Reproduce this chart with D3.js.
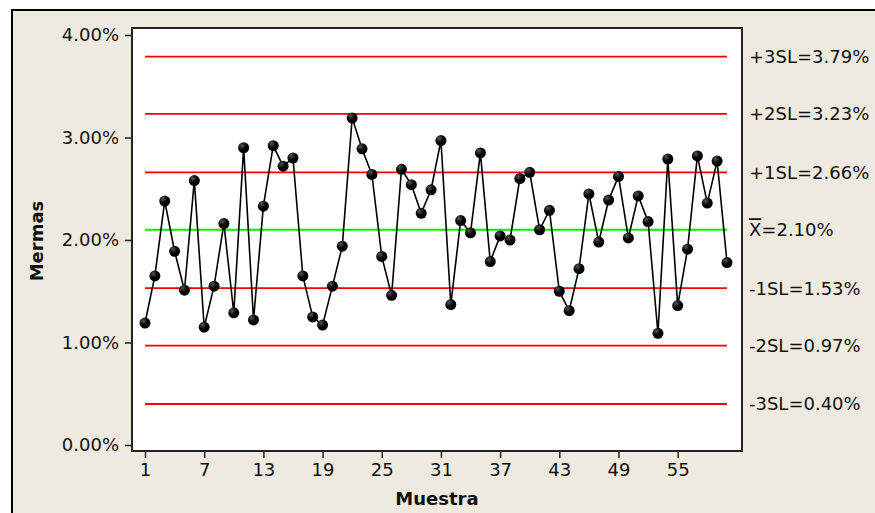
<!DOCTYPE html>
<html>
<head>
<meta charset="utf-8">
<script src="https://cdn.jsdelivr.net/npm/d3@7"></script>
<style>
  html, body { margin: 0; padding: 0; background: #ffffff; }
  svg { display: block; }
  text { font-family: "DejaVu Sans", Verdana, sans-serif; fill: #111; }
</style>
</head>
<body>
<svg id="chart" width="875" height="513"></svg>
<script>
// Mermas (%) per sample
const samples = d3.range(1, 61);
const mermas = [
  1.19, 1.65, 2.38, 1.89, 1.51, 2.58, 1.15, 1.55, 2.16, 1.29,
  2.90, 1.22, 2.33, 2.92, 2.72, 2.80, 1.65, 1.25, 1.17, 1.55,
  1.94, 3.19, 2.89, 2.64, 1.84, 1.46, 2.69, 2.54, 2.26, 2.49,
  2.97, 1.37, 2.19, 2.07, 2.85, 1.79, 2.04, 2.00, 2.60, 2.66,
  2.10, 2.29, 1.50, 1.31, 1.72, 2.45, 1.98, 2.39, 2.62, 2.02,
  2.43, 2.18, 1.09, 2.79, 1.36, 1.91, 2.82, 2.36, 2.77, 1.78
];

// Centre line and sigma limits
const limitNames  = ["+3SL", "+2SL", "+1SL", "X", "-1SL", "-2SL", "-3SL"];
const limitValues = [3.79, 3.23, 2.66, 2.10, 1.53, 0.97, 0.40];

const yTicks = [0, 1, 2, 3, 4];
const xTicks = [1, 7, 13, 19, 25, 31, 37, 43, 49, 55];

const svg = d3.select("#chart");

// outer panel
svg.append("rect")
  .attr("x", 12).attr("y", 10).attr("width", 880).attr("height", 520)
  .attr("fill", "#eeeae0").attr("stroke", "#000").attr("stroke-width", 2);

const frame = { left: 132, right: 742, top: 28, bottom: 451 };

const x = d3.scaleLinear().domain([1, 60]).range([145, 727]);
const y = d3.scaleLinear().domain([0, 4]).range([445, 35]);

// plot area
svg.append("rect")
  .attr("x", frame.left).attr("y", frame.top)
  .attr("width", frame.right - frame.left).attr("height", frame.bottom - frame.top)
  .attr("fill", "#fff").attr("stroke", "#222").attr("stroke-width", 2);

// y axis
const yAxis = d3.axisLeft(y).tickValues(yTicks)
  .tickFormat(d => d3.format(".2f")(d) + "%")
  .tickSize(7).tickPadding(6).tickSizeOuter(0);
const gy = svg.append("g").attr("transform", `translate(${frame.left},0)`).call(yAxis);
gy.select(".domain").remove();
gy.selectAll("line").attr("stroke", "#222").attr("stroke-width", 1.5);
gy.selectAll("text").style("font-size", "18px").attr("fill", "#111");

// x axis
const xAxis = d3.axisBottom(x).tickValues(xTicks).tickSize(7).tickPadding(5).tickSizeOuter(0);
const gx = svg.append("g").attr("transform", `translate(0,${frame.bottom})`).call(xAxis);
gx.select(".domain").remove();
gx.selectAll("line").attr("stroke", "#222").attr("stroke-width", 1.5);
gx.selectAll("text").style("font-size", "18px").attr("fill", "#111");

// axis titles
svg.append("text")
  .attr("x", (frame.left + frame.right) / 2).attr("y", 505)
  .attr("text-anchor", "middle")
  .style("font-size", "18px").style("font-weight", "bold")
  .text("Muestra");

svg.append("text")
  .attr("transform", "translate(43,241) rotate(-90)")
  .attr("text-anchor", "middle")
  .style("font-size", "18px").style("font-weight", "bold")
  .text("Mermas");

// control lines
limitValues.forEach((v, i) => {
  svg.append("line")
    .attr("x1", x(1)).attr("x2", x(60))
    .attr("y1", y(v)).attr("y2", y(v))
    .attr("stroke", limitNames[i] === "X" ? "#00ee00" : "#ff0000")
    .attr("stroke-width", 1.8);

  const t = svg.append("text")
    .attr("x", 749).attr("y", y(v)).attr("dy", "0.36em")
    .style("font-size", "18px");
  if (limitNames[i] === "X") {
    t.append("tspan").style("text-decoration", "overline").text("X");
    t.append("tspan").text("=" + v.toFixed(2) + "%");
  } else {
    t.text(limitNames[i] + "=" + v.toFixed(2) + "%");
  }
});

// data line
const line = d3.line().x((d, i) => x(samples[i])).y(d => y(d));
svg.append("path")
  .datum(mermas)
  .attr("d", line)
  .attr("fill", "none").attr("stroke", "#000").attr("stroke-width", 1.6);

// glossy markers
const grad = svg.append("defs").append("radialGradient")
  .attr("id", "dot").attr("cx", "35%").attr("cy", "30%").attr("r", "65%");
grad.append("stop").attr("offset", "0%").attr("stop-color", "#555");
grad.append("stop").attr("offset", "60%").attr("stop-color", "#000");
grad.append("stop").attr("offset", "100%").attr("stop-color", "#000");

svg.append("g").selectAll("circle")
  .data(mermas)
  .join("circle")
  .attr("cx", (d, i) => x(samples[i]))
  .attr("cy", d => y(d))
  .attr("r", 5.5)
  .attr("fill", "url(#dot)");
</script>
</body>
</html>
